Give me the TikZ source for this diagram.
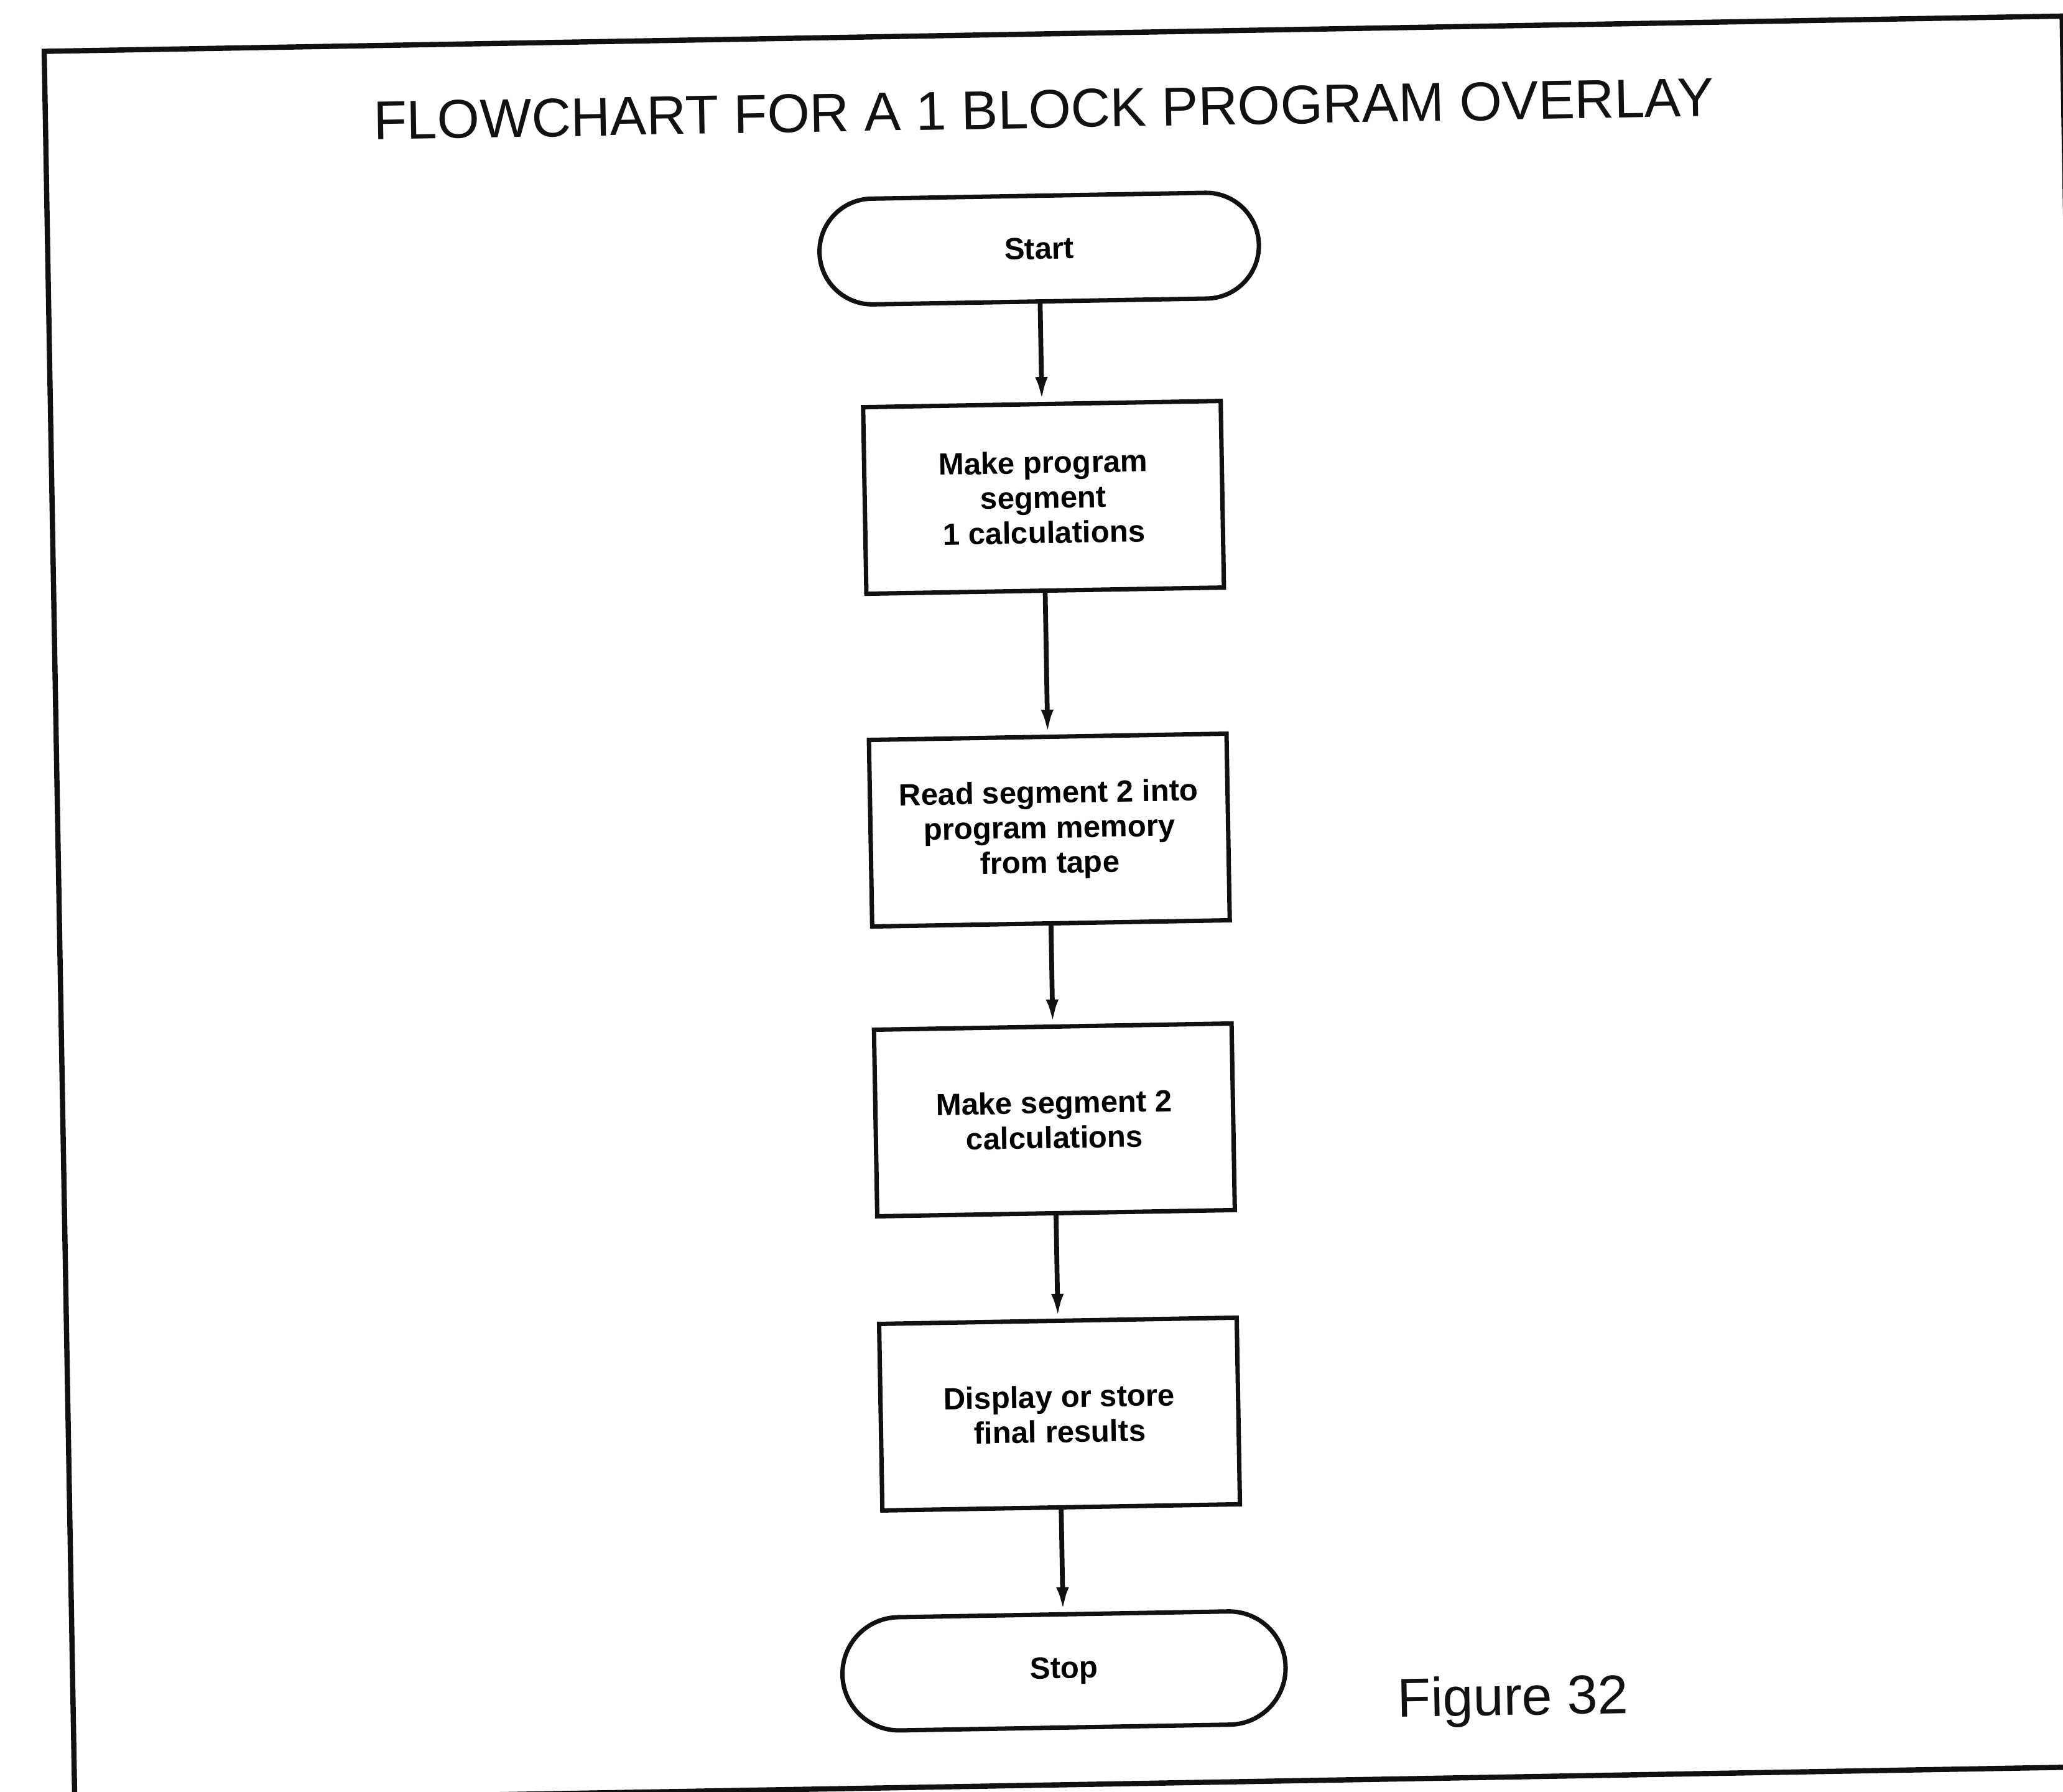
\documentclass[tikz,border=0pt]{standalone}
\usepackage{fontspec}
\setmainfont{Liberation Sans}
\usepackage{tikz}
\usetikzlibrary{arrows.meta, shapes.misc}
\definecolor{ink}{HTML}{111111}

\begin{document}
\begin{tikzpicture}[
  terminal/.style={
    rounded rectangle, draw=ink, line width=2pt,
    minimum width=7.3cm, minimum height=1.7cm,
    font=\fontsize{14}{16}\selectfont\bfseries
  },
  process/.style={
    rectangle, draw=ink, line width=2pt,
    minimum width=5.75cm, minimum height=3cm,
    font=\fontsize{14}{16}\selectfont\bfseries, align=center
  },
  heading/.style={font=\fontsize{25}{30}\selectfont, text=ink},
  arrow/.style={-{Latex[length=0.4cm, width=0.2cm]}, line width=2.2pt, color=ink},
]

% --- Page ---
\useasboundingbox (0,0) rectangle (33.17,-28.8);
\clip (0,0) rectangle (33.17,-28.8);
\fill[white] (0,0) rectangle (33.17,-28.8);

\begin{scope}[rotate around={1:(16.6,-14.4)}, transform shape]

% --- Frame ---
\draw[ink, line width=2.4pt] (0.95,-0.55) rectangle (33.4,-28.7);

% --- Title ---
\node[heading] (title) at (17.0,-1.76) {FLOWCHART FOR A 1 BLOCK PROGRAM OVERLAY};

% --- Steps ---
\node[terminal] (start) at (16.89,-4.0) {Start};
\node[process] (seg1) at (16.89,-8.0) {Make program\\segment\\1 calculations};
\node[process] (load2) at (16.89,-13.35) {Read segment 2 into\\program memory\\from tape};
\node[process] (seg2) at (16.89,-18.01) {Make segment 2\\calculations};
\node[process] (results) at (16.89,-22.74) {Display or store\\final results};
\node[terminal, minimum width=7.36cm, minimum height=1.82cm] (stop) at (16.89,-26.87) {Stop};

% --- Caption ---
\node[heading] (fig) at (24.1,-27.48) {Figure 32};

% --- Arrows ---
\draw[arrow] (start) -- (seg1);
\draw[arrow] (seg1) -- (load2);
\draw[arrow] (load2) -- (seg2);
\draw[arrow] (seg2) -- (results);
\draw[arrow] (results) -- (stop);

\end{scope}
\end{tikzpicture}
\end{document}
